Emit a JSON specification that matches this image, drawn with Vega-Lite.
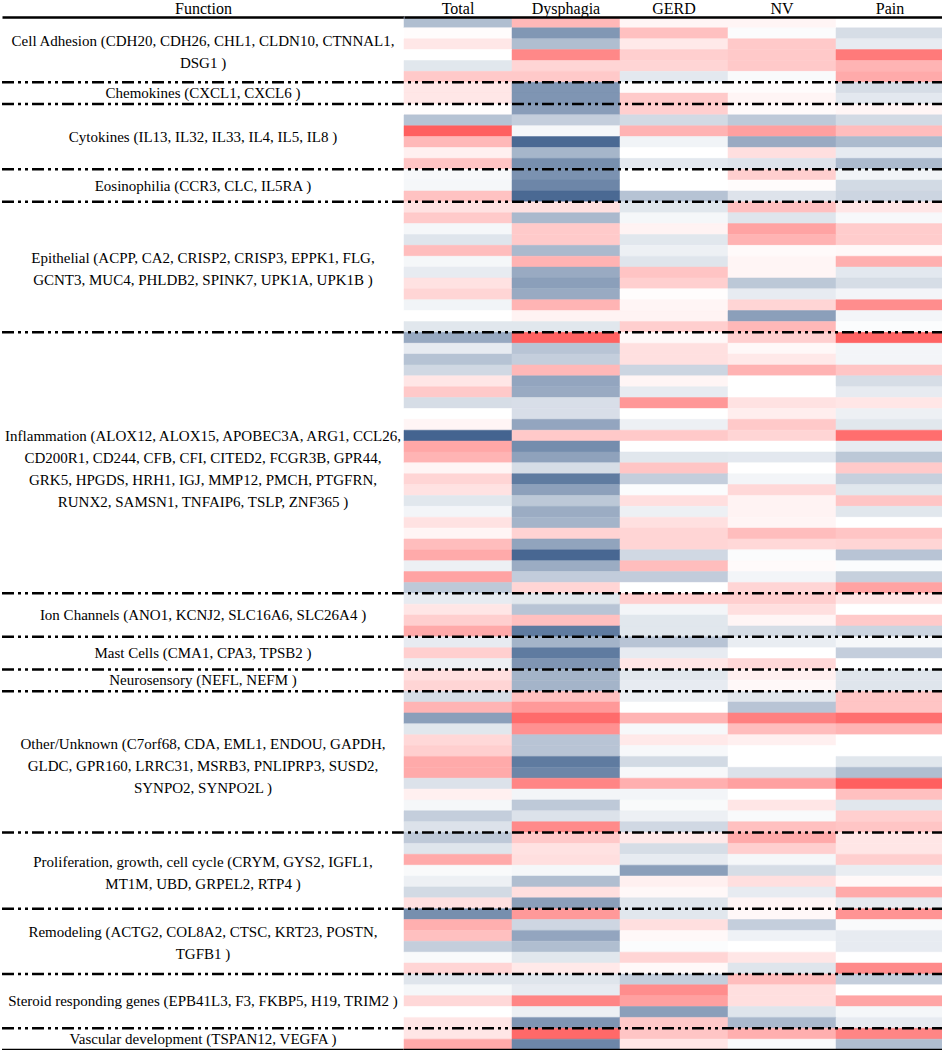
{
  "$schema": "https://vega.github.io/schema/vega-lite/v6.json",
  "padding": 0,
  "spacing": 0,
  "bounds": "flush",
  "background": "white",
  "config": {
    "view": {"stroke": null},
    "font": "Liberation Serif",
    "axis": {"grid": false}
  },
  "datasets": {
    "groups": [
      {"name": "Cell Adhesion", "start": 0, "end": 6, "lines": ["Cell Adhesion (CDH20, CDH26, CHL1, CLDN10, CTNNAL1,", "DSG1 )"]},
      {"name": "Chemokines", "start": 6, "end": 8, "lines": ["Chemokines (CXCL1, CXCL6 )"]},
      {"name": "Cytokines", "start": 8, "end": 14, "lines": ["Cytokines (IL13, IL32, IL33, IL4, IL5, IL8 )"]},
      {"name": "Eosinophilia", "start": 14, "end": 17, "lines": ["Eosinophilia (CCR3, CLC, IL5RA )"]},
      {"name": "Epithelial", "start": 17, "end": 29, "lines": ["Epithelial (ACPP, CA2, CRISP2, CRISP3, EPPK1, FLG,", "GCNT3, MUC4, PHLDB2, SPINK7, UPK1A, UPK1B )"]},
      {"name": "Inflammation", "start": 29, "end": 53, "lines": ["Inflammation (ALOX12, ALOX15, APOBEC3A, ARG1, CCL26,", "CD200R1, CD244, CFB, CFI, CITED2, FCGR3B, GPR44,", "GRK5, HPGDS, HRH1, IGJ, MMP12, PMCH, PTGFRN,", "RUNX2, SAMSN1, TNFAIP6, TSLP, ZNF365 )"]},
      {"name": "Ion Channels", "start": 53, "end": 57, "lines": ["Ion Channels (ANO1, KCNJ2, SLC16A6, SLC26A4 )"]},
      {"name": "Mast Cells", "start": 57, "end": 60, "lines": ["Mast Cells (CMA1, CPA3, TPSB2 )"]},
      {"name": "Neurosensory", "start": 60, "end": 62, "lines": ["Neurosensory (NEFL, NEFM )"]},
      {"name": "Other/Unknown", "start": 62, "end": 75, "lines": ["Other/Unknown (C7orf68, CDA, EML1, ENDOU, GAPDH,", "GLDC, GPR160, LRRC31, MSRB3, PNLIPRP3, SUSD2,", "SYNPO2, SYNPO2L )"]},
      {"name": "Proliferation", "start": 75, "end": 82, "lines": ["Proliferation,  growth, cell cycle (CRYM, GYS2, IGFL1,", "MT1M, UBD, GRPEL2, RTP4 )"]},
      {"name": "Remodeling", "start": 82, "end": 88, "lines": ["Remodeling (ACTG2, COL8A2, CTSC, KRT23, POSTN,", "TGFB1 )"]},
      {"name": "Steroid", "start": 88, "end": 93, "lines": ["Steroid responding genes (EPB41L3, F3, FKBP5, H19, TRIM2 )"]},
      {"name": "Vascular", "start": 93, "end": 95, "lines": ["Vascular development (TSPAN12, VEGFA )"]}
    ],
    "genes": [
      {"i": 0, "gene": "CDH20", "Total": -0.40, "Dysphagia": 0.42, "GERD": 0.06, "NV": 0.06, "Pain": 0},
      {"i": 1, "gene": "CDH26", "Total": 0.02, "Dysphagia": -0.64, "GERD": 0.37, "NV": -0.02, "Pain": -0.21},
      {"i": 2, "gene": "CHL1", "Total": 0.14, "Dysphagia": -0.40, "GERD": 0.13, "NV": 0.32, "Pain": -0.12},
      {"i": 3, "gene": "CLDN10", "Total": 0, "Dysphagia": 0.70, "GERD": 0.28, "NV": 0.32, "Pain": 0.78},
      {"i": 4, "gene": "CTNNAL1", "Total": -0.15, "Dysphagia": 0.25, "GERD": 0.25, "NV": 0.32, "Pain": 0.44},
      {"i": 5, "gene": "DSG1", "Total": 0.32, "Dysphagia": 0.32, "GERD": -0.14, "NV": -0.03, "Pain": 0.50},
      {"i": 6, "gene": "CXCL1", "Total": 0.14, "Dysphagia": -0.65, "GERD": 0.02, "NV": 0.02, "Pain": -0.21},
      {"i": 7, "gene": "CXCL6", "Total": 0.14, "Dysphagia": -0.65, "GERD": 0.31, "NV": 0.06, "Pain": -0.14},
      {"i": 8, "gene": "IL13", "Total": 0.01, "Dysphagia": -0.60, "GERD": 0.28, "NV": 0.03, "Pain": 0.06},
      {"i": 9, "gene": "IL32", "Total": -0.37, "Dysphagia": -0.30, "GERD": -0.23, "NV": -0.33, "Pain": -0.23},
      {"i": 10, "gene": "IL33", "Total": 0.94, "Dysphagia": -0.05, "GERD": 0.45, "NV": 0.56, "Pain": 0.39},
      {"i": 11, "gene": "IL4", "Total": 0.42, "Dysphagia": -0.92, "GERD": -0.07, "NV": -0.52, "Pain": -0.42},
      {"i": 12, "gene": "IL5", "Total": 0.09, "Dysphagia": -0.45, "GERD": 0, "NV": 0.19, "Pain": -0.12},
      {"i": 13, "gene": "IL8", "Total": 0.35, "Dysphagia": -0.69, "GERD": -0.14, "NV": -0.17, "Pain": -0.42},
      {"i": 14, "gene": "CCR3", "Total": -0.04, "Dysphagia": -0.67, "GERD": 0, "NV": 0.28, "Pain": -0.07},
      {"i": 15, "gene": "CLC", "Total": -0.05, "Dysphagia": -0.74, "GERD": 0, "NV": 0.02, "Pain": -0.23},
      {"i": 16, "gene": "IL5RA", "Total": 0.36, "Dysphagia": -0.92, "GERD": -0.37, "NV": -0.17, "Pain": -0.26},
      {"i": 17, "gene": "ACPP", "Total": 0.17, "Dysphagia": 0.18, "GERD": -0.15, "NV": 0.37, "Pain": 0.15},
      {"i": 18, "gene": "CA2", "Total": 0.31, "Dysphagia": -0.43, "GERD": -0.05, "NV": -0.16, "Pain": -0.04},
      {"i": 19, "gene": "CRISP2", "Total": -0.05, "Dysphagia": 0.31, "GERD": 0.07, "NV": 0.54, "Pain": 0.30},
      {"i": 20, "gene": "CRISP3", "Total": -0.16, "Dysphagia": 0.31, "GERD": -0.15, "NV": 0.45, "Pain": 0.30},
      {"i": 21, "gene": "EPPK1", "Total": 0.39, "Dysphagia": -0.43, "GERD": -0.09, "NV": 0.03, "Pain": 0.04},
      {"i": 22, "gene": "FLG", "Total": -0.05, "Dysphagia": 0.45, "GERD": -0.16, "NV": 0.06, "Pain": 0.47},
      {"i": 23, "gene": "GCNT3", "Total": -0.12, "Dysphagia": -0.52, "GERD": 0.35, "NV": 0.06, "Pain": -0.14},
      {"i": 24, "gene": "MUC4", "Total": 0.17, "Dysphagia": -0.59, "GERD": 0.28, "NV": -0.34, "Pain": -0.21},
      {"i": 25, "gene": "PHLDB2", "Total": 0.25, "Dysphagia": -0.52, "GERD": 0.01, "NV": -0.12, "Pain": -0.06},
      {"i": 26, "gene": "SPINK7", "Total": -0.07, "Dysphagia": 0.44, "GERD": 0.06, "NV": 0.25, "Pain": 0.67},
      {"i": 27, "gene": "UPK1A", "Total": 0, "Dysphagia": 0.07, "GERD": 0.07, "NV": -0.59, "Pain": -0.06},
      {"i": 28, "gene": "UPK1B", "Total": -0.15, "Dysphagia": -0.15, "GERD": 0.29, "NV": 0.42, "Pain": -0.02},
      {"i": 29, "gene": "ALOX12", "Total": -0.53, "Dysphagia": 0.93, "GERD": 0.04, "NV": 0.28, "Pain": 0.92},
      {"i": 30, "gene": "ALOX15", "Total": -0.12, "Dysphagia": -0.36, "GERD": 0.18, "NV": 0.04, "Pain": -0.06},
      {"i": 31, "gene": "APOBEC3A", "Total": -0.37, "Dysphagia": -0.30, "GERD": 0.18, "NV": 0.13, "Pain": -0.06},
      {"i": 32, "gene": "ARG1", "Total": -0.24, "Dysphagia": 0.42, "GERD": -0.26, "NV": 0.45, "Pain": 0.34},
      {"i": 33, "gene": "CCL26", "Total": 0.15, "Dysphagia": -0.55, "GERD": 0.06, "NV": 0, "Pain": -0.21},
      {"i": 34, "gene": "CD200R1", "Total": 0.32, "Dysphagia": -0.52, "GERD": -0.12, "NV": 0, "Pain": -0.12},
      {"i": 35, "gene": "CD244", "Total": -0.21, "Dysphagia": -0.20, "GERD": 0.61, "NV": 0.17, "Pain": 0.15},
      {"i": 36, "gene": "CFB", "Total": 0, "Dysphagia": -0.20, "GERD": 0, "NV": 0.10, "Pain": -0.09},
      {"i": 37, "gene": "CFI", "Total": 0.06, "Dysphagia": -0.55, "GERD": -0.09, "NV": 0.32, "Pain": -0.15},
      {"i": 38, "gene": "CITED2", "Total": -0.95, "Dysphagia": 0.32, "GERD": 0.32, "NV": 0.25, "Pain": 0.85},
      {"i": 39, "gene": "FCGR3B", "Total": 0.52, "Dysphagia": -0.70, "GERD": 0, "NV": 0, "Pain": -0.12},
      {"i": 40, "gene": "GPR44", "Total": 0.44, "Dysphagia": -0.57, "GERD": -0.15, "NV": -0.14, "Pain": -0.34},
      {"i": 41, "gene": "GRK5", "Total": 0.06, "Dysphagia": -0.21, "GERD": 0.34, "NV": 0, "Pain": 0.31},
      {"i": 42, "gene": "HPGDS", "Total": 0.25, "Dysphagia": -0.81, "GERD": -0.30, "NV": -0.06, "Pain": -0.29},
      {"i": 43, "gene": "HRH1", "Total": 0.17, "Dysphagia": -0.58, "GERD": -0.02, "NV": 0.23, "Pain": -0.15},
      {"i": 44, "gene": "IGJ", "Total": -0.15, "Dysphagia": -0.34, "GERD": 0.19, "NV": 0.07, "Pain": 0.34},
      {"i": 45, "gene": "MMP12", "Total": -0.06, "Dysphagia": -0.51, "GERD": -0.09, "NV": 0.07, "Pain": -0.15},
      {"i": 46, "gene": "PMCH", "Total": 0.17, "Dysphagia": -0.46, "GERD": 0.18, "NV": 0.06, "Pain": 0},
      {"i": 47, "gene": "PTGFRN", "Total": 0.06, "Dysphagia": 0.26, "GERD": 0.25, "NV": 0.39, "Pain": 0.34},
      {"i": 48, "gene": "RUNX2", "Total": 0.39, "Dysphagia": -0.56, "GERD": 0.25, "NV": 0.23, "Pain": 0.25},
      {"i": 49, "gene": "SAMSN1", "Total": 0.50, "Dysphagia": -0.93, "GERD": -0.24, "NV": -0.02, "Pain": -0.36},
      {"i": 50, "gene": "TNFAIP6", "Total": -0.09, "Dysphagia": -0.51, "GERD": 0.39, "NV": 0.03, "Pain": -0.02},
      {"i": 51, "gene": "TSLP", "Total": 0.54, "Dysphagia": -0.31, "GERD": -0.31, "NV": -0.06, "Pain": -0.29},
      {"i": 52, "gene": "ZNF365", "Total": -0.33, "Dysphagia": 0.25, "GERD": 0, "NV": 0.25, "Pain": 0.54},
      {"i": 53, "gene": "ANO1", "Total": -0.12, "Dysphagia": -0.15, "GERD": 0.28, "NV": 0.28, "Pain": 0.15},
      {"i": 54, "gene": "KCNJ2", "Total": 0.15, "Dysphagia": -0.36, "GERD": -0.06, "NV": 0.19, "Pain": 0},
      {"i": 55, "gene": "SLC16A6", "Total": 0.28, "Dysphagia": 0.37, "GERD": -0.15, "NV": 0.06, "Pain": 0.31},
      {"i": 56, "gene": "SLC26A4", "Total": 0.50, "Dysphagia": -0.81, "GERD": -0.15, "NV": -0.21, "Pain": -0.26},
      {"i": 57, "gene": "CMA1", "Total": -0.12, "Dysphagia": -0.46, "GERD": -0.36, "NV": -0.11, "Pain": -0.05},
      {"i": 58, "gene": "CPA3", "Total": 0.28, "Dysphagia": -0.81, "GERD": -0.12, "NV": 0, "Pain": -0.30},
      {"i": 59, "gene": "TPSB2", "Total": -0.09, "Dysphagia": -0.65, "GERD": 0.15, "NV": 0.23, "Pain": 0},
      {"i": 60, "gene": "NEFL", "Total": 0.19, "Dysphagia": -0.46, "GERD": -0.15, "NV": 0.09, "Pain": -0.16},
      {"i": 61, "gene": "NEFM", "Total": 0.25, "Dysphagia": -0.46, "GERD": -0.12, "NV": 0.04, "Pain": -0.16},
      {"i": 62, "gene": "C7orf68", "Total": -0.21, "Dysphagia": 0.37, "GERD": -0.09, "NV": -0.15, "Pain": 0.34},
      {"i": 63, "gene": "CDA", "Total": 0.44, "Dysphagia": 0.60, "GERD": 0, "NV": -0.36, "Pain": 0.34},
      {"i": 64, "gene": "EML1", "Total": -0.59, "Dysphagia": 0.87, "GERD": 0.44, "NV": 0.75, "Pain": 0.84},
      {"i": 65, "gene": "ENDOU", "Total": -0.15, "Dysphagia": 0.65, "GERD": -0.04, "NV": 0.39, "Pain": 0.44},
      {"i": 66, "gene": "GAPDH", "Total": 0.23, "Dysphagia": -0.36, "GERD": 0.13, "NV": 0.09, "Pain": 0},
      {"i": 67, "gene": "GLDC", "Total": 0.28, "Dysphagia": -0.36, "GERD": -0.04, "NV": 0, "Pain": 0},
      {"i": 68, "gene": "GPR160", "Total": 0.50, "Dysphagia": -0.81, "GERD": -0.23, "NV": 0, "Pain": -0.15},
      {"i": 69, "gene": "LRRC31", "Total": 0.50, "Dysphagia": -0.74, "GERD": -0.04, "NV": -0.18, "Pain": -0.40},
      {"i": 70, "gene": "MSRB3", "Total": -0.18, "Dysphagia": 0.72, "GERD": 0.47, "NV": 0.56, "Pain": 0.94},
      {"i": 71, "gene": "PNLIPRP3", "Total": 0.09, "Dysphagia": -0.06, "GERD": -0.06, "NV": 0, "Pain": 0.37},
      {"i": 72, "gene": "SUSD2", "Total": -0.05, "Dysphagia": -0.33, "GERD": -0.03, "NV": 0.15, "Pain": -0.15},
      {"i": 73, "gene": "SYNPO2", "Total": -0.30, "Dysphagia": -0.18, "GERD": -0.09, "NV": -0.03, "Pain": 0.28},
      {"i": 74, "gene": "SYNPO2L", "Total": -0.18, "Dysphagia": 0.69, "GERD": -0.24, "NV": 0.37, "Pain": 0.34},
      {"i": 75, "gene": "CRYM", "Total": -0.33, "Dysphagia": 0.32, "GERD": 0.13, "NV": 0.50, "Pain": 0.15},
      {"i": 76, "gene": "GYS2", "Total": -0.16, "Dysphagia": 0.17, "GERD": -0.21, "NV": 0.28, "Pain": 0.15},
      {"i": 77, "gene": "IGFL1", "Total": 0.50, "Dysphagia": 0.19, "GERD": -0.12, "NV": -0.05, "Pain": 0.28},
      {"i": 78, "gene": "MT1M", "Total": -0.03, "Dysphagia": -0.05, "GERD": -0.59, "NV": -0.21, "Pain": -0.11},
      {"i": 79, "gene": "UBD", "Total": -0.09, "Dysphagia": -0.40, "GERD": 0.09, "NV": 0.19, "Pain": 0.04},
      {"i": 80, "gene": "GRPEL2", "Total": -0.23, "Dysphagia": 0.19, "GERD": 0.04, "NV": -0.12, "Pain": 0.50},
      {"i": 81, "gene": "RTP4", "Total": 0.18, "Dysphagia": -0.59, "GERD": -0.16, "NV": 0.06, "Pain": -0.12},
      {"i": 82, "gene": "ACTG2", "Total": -0.69, "Dysphagia": 0.60, "GERD": -0.15, "NV": 0.04, "Pain": 0.63},
      {"i": 83, "gene": "COL8A2", "Total": 0.47, "Dysphagia": -0.25, "GERD": 0.19, "NV": -0.30, "Pain": -0.03},
      {"i": 84, "gene": "CTSC", "Total": 0.37, "Dysphagia": -0.55, "GERD": 0.04, "NV": -0.08, "Pain": -0.12},
      {"i": 85, "gene": "KRT23", "Total": -0.30, "Dysphagia": -0.40, "GERD": -0.02, "NV": 0, "Pain": -0.12},
      {"i": 86, "gene": "POSTN", "Total": -0.03, "Dysphagia": -0.15, "GERD": 0.25, "NV": 0.15, "Pain": 0},
      {"i": 87, "gene": "TGFB1", "Total": 0.25, "Dysphagia": 0.13, "GERD": 0.04, "NV": -0.16, "Pain": 0.69},
      {"i": 88, "gene": "EPB41L3", "Total": -0.16, "Dysphagia": -0.16, "GERD": -0.30, "NV": 0.39, "Pain": -0.30},
      {"i": 89, "gene": "F3", "Total": -0.05, "Dysphagia": -0.12, "GERD": 0.67, "NV": 0.19, "Pain": 0},
      {"i": 90, "gene": "FKBP5", "Total": 0.23, "Dysphagia": 0.72, "GERD": 0.56, "NV": 0.19, "Pain": 0.53},
      {"i": 91, "gene": "H19", "Total": 0, "Dysphagia": -0.09, "GERD": -0.59, "NV": -0.16, "Pain": -0.05},
      {"i": 92, "gene": "TRIM2", "Total": 0.15, "Dysphagia": -0.65, "GERD": 0.32, "NV": -0.43, "Pain": -0.12},
      {"i": 93, "gene": "TSPAN12", "Total": 0.15, "Dysphagia": 0.88, "GERD": 0.34, "NV": 0.47, "Pain": 0.72},
      {"i": 94, "gene": "VEGFA", "Total": 0.50, "Dysphagia": -0.74, "GERD": 0.15, "NV": -0.03, "Pain": -0.40}
    ]
  },
  "hconcat": [
    {
      "width": 402,
      "height": 1033,
      "data": {"name": "groups"},
      "transform": [{"calculate": "(datum.start + datum.end) / 2 - (length(datum.lines) - 1) * 9 * 95 / 1033", "as": "mid"}],
      "layer": [
        {
          "mark": {"type": "text", "font": "Liberation Serif", "fontSize": 15, "lineHeight": 22, "align": "center", "baseline": "middle", "color": "black"},
          "encoding": {
            "x": {"datum": "Function", "type": "nominal", "scale": {"paddingInner": 0, "paddingOuter": 0},
                  "axis": {"orient": "top", "title": null, "ticks": false, "domain": true, "domainColor": "black", "domainWidth": 2.5, "labelFont": "Liberation Serif", "labelFontSize": 16, "labelColor": "black", "labelAngle": 0, "labelPadding": 1, "minExtent": 16, "maxExtent": 16, "grid": false}},
            "y": {"field": "mid", "type": "quantitative", "scale": {"domain": [0, 95], "reverse": true, "nice": false, "zero": false}, "axis": null},
            "text": {"field": "lines"}
          }
        },
        {
          "transform": [{"filter": "datum.start > 0"}],
          "mark": {"type": "rule", "strokeDash": [12, 4, 3, 4, 3, 4], "strokeWidth": 2.5, "color": "black"},
          "encoding": {"y": {"field": "start", "type": "quantitative"}}
        },
        {
          "data": {"values": [{}]},
          "mark": {"type": "rule", "strokeWidth": 2.5, "color": "black"},
          "encoding": {"y": {"datum": 95, "type": "quantitative"}}
        }
      ]
    },
    {
      "width": 540,
      "height": 1033,
      "layer": [
        {
          "data": {"name": "genes"},
          "transform": [
            {"fold": ["Total", "Dysphagia", "GERD", "NV", "Pain"], "as": ["col", "value"]},
            {"calculate": "datum.i + 1", "as": "i1"}
          ],
          "mark": {"type": "rect", "strokeWidth": 0.5},
          "encoding": {
            "x": {"field": "col", "type": "nominal", "sort": ["Total", "Dysphagia", "GERD", "NV", "Pain"], "scale": {"paddingInner": 0, "paddingOuter": 0},
                  "axis": {"orient": "top", "title": null, "ticks": false, "domain": true, "domainColor": "black", "domainWidth": 2.5, "labelFont": "Liberation Serif", "labelFontSize": 16, "labelColor": "black", "labelAngle": 0, "labelPadding": 1, "minExtent": 16, "maxExtent": 16, "grid": false}},
            "y": {"field": "i", "type": "quantitative", "scale": {"domain": [0, 95], "reverse": true, "nice": false, "zero": false}, "axis": null},
            "y2": {"field": "i1"},
            "color": {"field": "value", "type": "quantitative", "scale": {"domain": [-1, 0, 1], "range": ["#3a5c8a", "#ffffff", "#ff5555"], "interpolate": "rgb"}, "legend": null},
            "stroke": {"field": "value", "type": "quantitative", "scale": {"domain": [-1, 0, 1], "range": ["#3a5c8a", "#ffffff", "#ff5555"], "interpolate": "rgb"}, "legend": null}
          }
        },
        {
          "data": {"name": "groups"},
          "transform": [{"filter": "datum.start > 0"}],
          "mark": {"type": "rule", "strokeDash": [12, 4, 3, 4, 3, 4], "strokeWidth": 2.5, "color": "black"},
          "encoding": {"y": {"field": "start", "type": "quantitative"}}
        },
        {
          "data": {"values": [{}]},
          "mark": {"type": "rule", "strokeWidth": 2.5, "color": "black"},
          "encoding": {"y": {"datum": 95, "type": "quantitative"}}
        }
      ]
    }
  ]
}
